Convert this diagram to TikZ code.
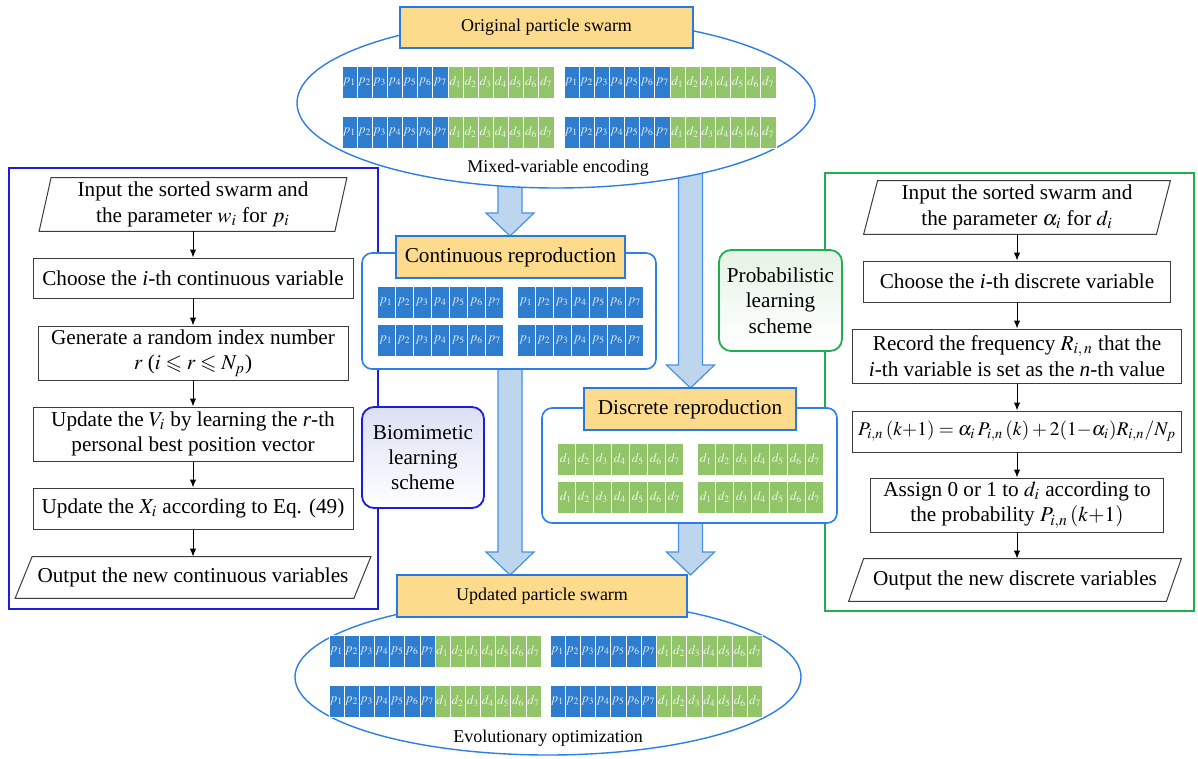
\documentclass[tikz,border=0pt]{standalone}
\usepackage{mathptmx}
\usepackage{amssymb}
\usepackage[no-math]{fontspec}
\setmainfont{Liberation Serif}
\usetikzlibrary{shapes.geometric,calc,arrows.meta}
\definecolor{cblue}{RGB}{46,125,206}
\definecolor{cgreen}{RGB}{146,196,106}
\definecolor{lblfill}{RGB}{253,219,141}
\definecolor{lblline}{RGB}{40,120,230}
\definecolor{elline}{RGB}{45,125,235}
\definecolor{panelblue}{RGB}{28,28,225}
\definecolor{panelgreen}{RGB}{30,175,80}
\definecolor{fatfill}{RGB}{189,214,238}
\definecolor{fatline}{RGB}{70,145,230}
\definecolor{boxline}{RGB}{60,60,60}
\definecolor{bioshade}{RGB}{220,224,244}
\definecolor{probshade}{RGB}{230,243,230}
\newcommand\prow[4]{\foreach \i in {1,...,7}{\node[pcell, minimum width=#4*0.5pt] (#1\i) at ({#2+(\i-0.5)*#4},{#3+16}) {$p_{\i}$};}}
\newcommand\drow[4]{\foreach \i in {1,...,7}{\node[dcell, minimum width=#4*0.5pt] (#1\i) at ({#2+(\i-0.5)*#4},{#3+16}) {$d_{\i}$};}}
\newcommand\mixrow[4]{\prow{#1p}{#2}{#3}{#4}\drow{#1d}{#2+7*#4}{#3}{#4}}
\newcommand\fatarr[2]{\draw[fat] let \p1=#1, \p2=#2 in (\x2-6pt,\y1) -- (\x2-6pt,\y2+11.5pt) -- (\x2-12pt,\y2+11.5pt) -- (\x2,\y2) -- (\x2+12pt,\y2+11.5pt) -- (\x2+6pt,\y2+11.5pt) -- (\x2+6pt,\y1);}
\newcommand\parabox[3]{\draw[boxline] ([xshift=#2]#1.north west) -- ([xshift=#2]#1.north east) -- ([xshift=-#2]#1.south east) -- ([xshift=-#2]#1.south west) -- cycle;}
\begin{document}
\begin{tikzpicture}[x=0.5pt,y=-0.5pt,
  txt/.style={align=center, inner sep=0pt, font=\fontsize{10.6}{12.7}\selectfont},
  fbox/.style={txt, draw=boxline, line width=0.5pt},
  boxline/.style={draw=boxline, line width=0.5pt},
  lbl/.style={draw=lblline, fill=lblfill, line width=0.8pt, inner sep=0pt, font=\fontsize{10.6}{12.7}\selectfont},
  toplbl/.style={lbl, font=\fontsize{9}{11}\selectfont},
  pcell/.style={fill=cblue, draw=white, line width=0.4pt, text=white, text opacity=0.85, inner sep=0pt, minimum height=16pt, font=\fontsize{6.5}{7}\selectfont},
  dcell/.style={pcell, fill=cgreen},
  flow/.style={-{Latex[length=4pt,width=3.2pt]}, line width=0.5pt, black},
  fat/.style={fill=fatfill, draw=fatline, line width=0.6pt},
  cont/.style={draw=elline, line width=0.8pt, fill=white, rounded corners=5pt, inner sep=0pt},
  elli/.style={ellipse, draw=elline, line width=0.7pt, fill=white, inner sep=0pt},
  small/.style={inner sep=0pt, font=\fontsize{9}{11}\selectfont}]
\useasboundingbox (0,0) rectangle (1198,759);
% panels
\node[draw=panelblue, line width=1pt, minimum width=184.5pt, minimum height=220.5pt, inner sep=0pt] (PL) at (193.5,388.5) {};
\node[draw=panelgreen, line width=1pt, minimum width=184.5pt, minimum height=219pt, inner sep=0pt] (PR) at (1009.5,392) {};
% left flowchart
\node[txt, minimum width=147.5pt, minimum height=26.5pt] (L1) at (193,204.5) {Input the sorted swarm and\\the parameter $w_i$ for $p_i$};
\parabox{L1}{3pt}{}
\node[fbox, minimum width=160pt, minimum height=20pt] (L2) at (193,278) {Choose the \textit{i}-th continuous variable};
\node[fbox, minimum width=155pt, minimum height=27pt] (L3) at (193,353) {Generate a random index number\\$r$ ($i\leqslant r\leqslant N_p$)};
\node[fbox, minimum width=160pt, minimum height=27pt] (L4) at (193,434) {Update the $V_i$ by learning the \textit{r}-th\\personal best position vector};
\node[fbox, minimum width=160pt, minimum height=20.5pt] (L5) at (193,508.5) {Update the $X_i$ according to Eq. (49)};
\node[txt, minimum width=169pt, minimum height=20.5pt] (L6) at (193,577.5) {Output the new continuous variables};
\parabox{L6}{4.25pt}{}
\draw[flow] (L1.south) -- (L2.north);
\draw[flow] (L2.south) -- (L3.north);
\draw[flow] (L3.south) -- (L4.north);
\draw[flow] (L4.south) -- (L5.north);
\draw[flow] (L5.south) -- (L6.north);
% right flowchart
\node[txt, minimum width=146pt, minimum height=26.5pt] (R1) at (1017,207.5) {Input the sorted swarm and\\the parameter $\alpha_i$ for $d_i$};
\parabox{R1}{3.5pt}{}
\node[fbox, minimum width=153.5pt, minimum height=20.5pt] (R2) at (1017,281.5) {Choose the \textit{i}-th discrete variable};
\node[fbox, minimum width=164.5pt, minimum height=27pt] (R3) at (1017,356) {Record the frequency $R_{i,\,n}$ that the\\\textit{i}-th variable is set as the \textit{n}-th value};
\node[fbox, minimum width=164.5pt, minimum height=20.5pt, font=\fontsize{9.7}{11.6}\selectfont] (R4) at (1017,431.5) {$P_{i,n}\,(k{+}1) = \alpha_i\,P_{i,n}\,(k) + 2(1{-}\alpha_i)R_{i,n}/N_p$};
\node[fbox, minimum width=146.5pt, minimum height=27pt] (R5) at (1017,505) {Assign 0 or 1 to $d_i$ according to\\the probability $P_{i,n}\,(k{+}1)$};
\node[txt, minimum width=158.5pt, minimum height=21pt] (R6) at (1015,580) {Output the new discrete variables};
\parabox{R6}{3.75pt}{}
\draw[flow] (R1.south) -- (R2.north);
\draw[flow] (R2.south) -- (R3.north);
\draw[flow] (R3.south) -- (R4.north);
\draw[flow] (R4.south) -- (R5.north);
\draw[flow] (R5.south) -- (R6.north -| R5.south);
% arrow tip coordinates (on the label boxes drawn below)
\coordinate (CLn) at (510,236);
\coordinate (DLn) at (690.5,388);
\coordinate (ULn) at (542,575);
\fatarr{(510,103)}{(CLn)}
\fatarr{(690.5,103)}{(DLn)}
\fatarr{(510,311)}{(CLn |- ULn)}
\fatarr{(690.5,465)}{(DLn |- ULn)}
% top ellipse
\node[elli, minimum width=259pt, minimum height=85pt] (E1) at (556,103) {};
\node[toplbl, minimum width=146.5pt, minimum height=20.5pt] (TL) at (546.5,27.5) {Original particle swarm};
\mixrow{ta}{342}{66}{15.14}
\mixrow{tb}{564}{66}{15.14}
\mixrow{tc}{342}{116}{15.14}
\mixrow{td}{564}{116}{15.14}
\node[small] (ME) at (558,168) {Mixed-variable encoding};
% continuous reproduction
\node[cont, minimum width=147pt, minimum height=58pt] (CC) at (509,311) {};
\node[lbl, minimum width=114.5pt, minimum height=21pt] (CL) at (510.5,257) {Continuous reproduction};
\prow{ca}{377}{286}{18.1}
\prow{cb}{517}{286}{18.1}
\prow{cc}{377}{324}{18.1}
\prow{cd}{517}{324}{18.1}
% biomimetic
\node[txt, draw=panelblue, line width=0.9pt, rounded corners=6pt, top color=bioshade, bottom color=white, minimum width=61pt, minimum height=50.5pt] (BIO) at (423,457.5) {Biomimetic\\learning\\scheme};
% discrete reproduction
\node[cont, minimum width=147.5pt, minimum height=57.5pt] (DC) at (689.5,465.5) {};
\node[lbl, minimum width=106pt, minimum height=21pt] (DL) at (690,409) {Discrete reproduction};
\drow{da}{557}{443}{18}
\drow{db}{697}{443}{18}
\drow{dc}{557}{481}{18}
\drow{dd}{697}{481}{18}
% probabilistic
\node[txt, draw=panelgreen, line width=0.9pt, rounded corners=6pt, top color=probshade, bottom color=white, minimum width=61.5pt, minimum height=50.5pt] (PROB) at (780.5,300.5) {Probabilistic\\learning\\scheme};
% bottom ellipse
\node[elli, minimum width=253pt, minimum height=78pt] (E2) at (548,677) {};
\node[toplbl, minimum width=145pt, minimum height=21pt] (UL) at (542,596) {Updated particle swarm};
\mixrow{ba}{329}{635}{15.15}
\mixrow{bb}{550}{635}{15.2}
\mixrow{bc}{329}{685}{15.15}
\mixrow{bd}{550}{685}{15.2}
\node[small] (EO) at (548,738) {Evolutionary optimization};
\end{tikzpicture}
\end{document}
